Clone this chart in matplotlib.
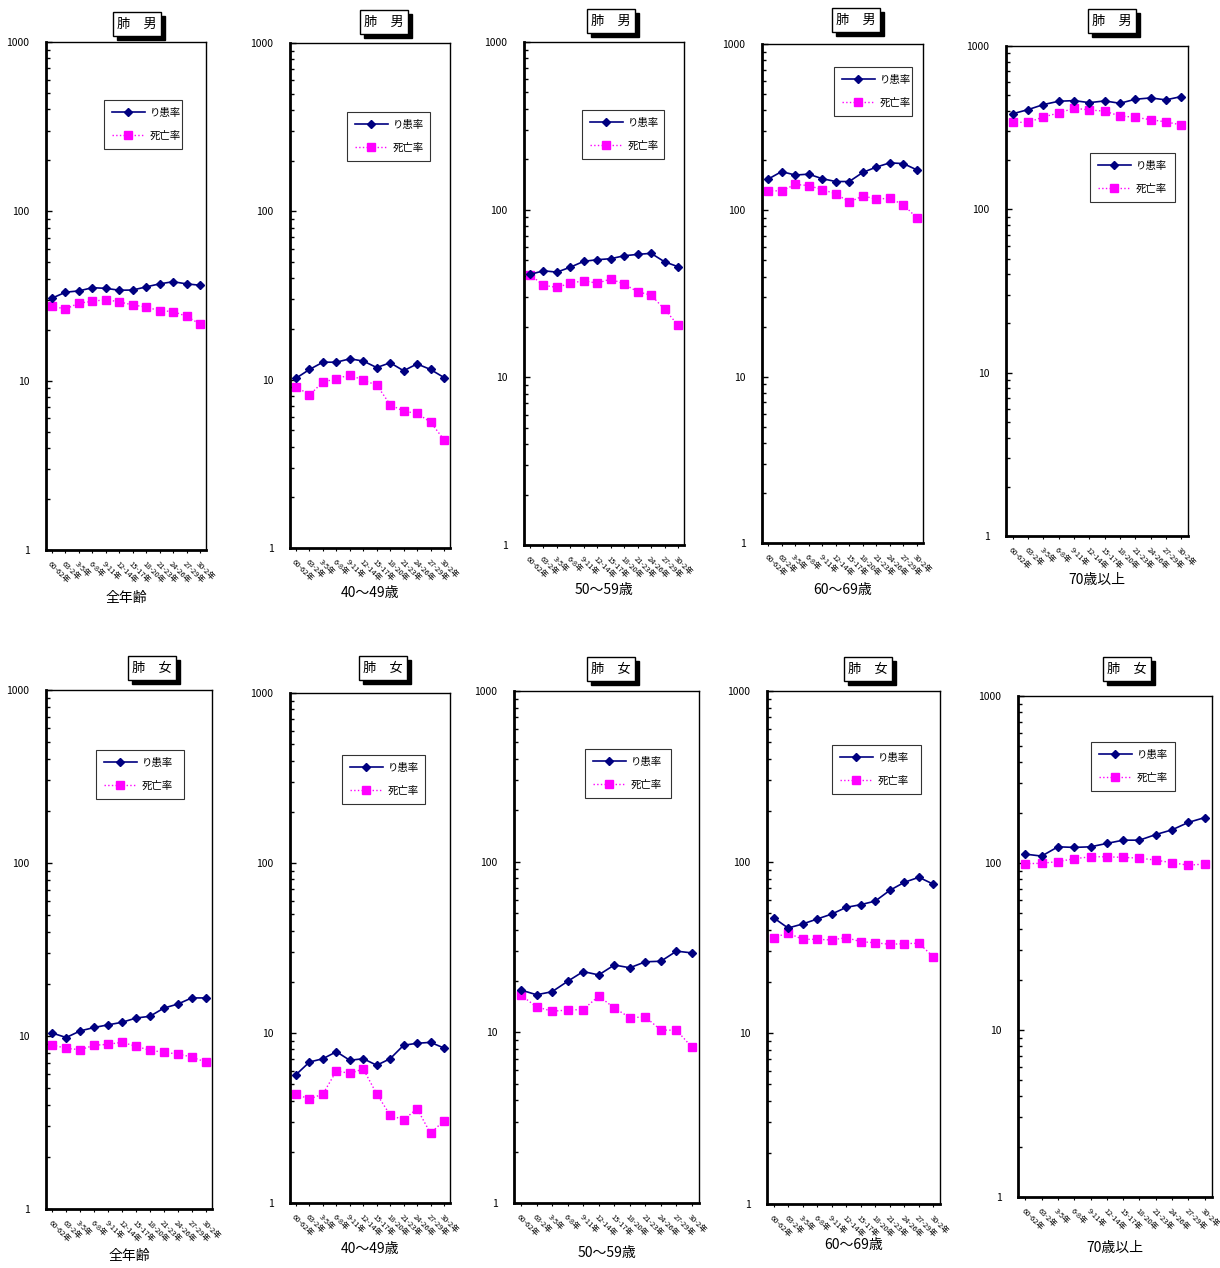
"""
肺がん り患率・死亡率の推移（男女・年齢階級別）、片対数の小パネル10枚。
"""

import matplotlib.pyplot as plt
from matplotlib.patches import Rectangle
from matplotlib.ticker import LogLocator, NullFormatter, FixedLocator

plt.rcParams["font.family"] = ["Noto Sans CJK JP", "DejaVu Sans"]

periods = ["60-62年", "63-2年", "3-5年", "6-8年", "9-11年", "12-14年",
           "15-17年", "18-20年", "21-23年", "24-26年", "27-29年", "30-2年"]

# 男
male_all_inc = [30.7, 33.3, 33.9, 35.4, 35.1, 34.2, 34.3, 35.8, 37.3, 38.4, 37.3, 36.6]
male_all_mort = [27.5, 26.5, 28.7, 29.4, 30.1, 29.2, 28.0, 27.2, 25.9, 25.6, 24.0, 21.6]
male_40_inc = [10.2, 11.5, 12.7, 12.7, 13.3, 12.9, 11.8, 12.6, 11.3, 12.4, 11.5, 10.3]
male_40_mort = [9.1, 8.1, 9.7, 10.1, 10.7, 9.9, 9.3, 7.1, 6.5, 6.3, 5.6, 4.4]
male_50_inc = [41.1, 43.2, 42.4, 45.4, 49.2, 50.3, 51.0, 53.1, 54.1, 54.9, 48.9, 45.7]
male_50_mort = [40.9, 35.4, 34.4, 36.4, 37.7, 36.4, 38.6, 36.0, 32.4, 30.9, 25.5, 20.5]
male_60_inc = [154, 171, 163, 165, 155, 149, 149, 169, 182, 193, 191, 175]
male_60_mort = [131, 131, 143, 141, 133, 126, 112, 122, 117, 118, 108, 90]
male_70_inc = [385, 408, 438, 459, 463, 450, 461, 446, 472, 481, 468, 490]
male_70_mort = [341, 341, 368, 389, 416, 406, 399, 373, 366, 354, 343, 329]

# 女
female_all_inc = [10.4, 9.8, 10.7, 11.2, 11.6, 12.0, 12.7, 13.0, 14.5, 15.3, 16.6, 16.6]
female_all_mort = [8.87, 8.49, 8.33, 8.84, 8.95, 9.2, 8.72, 8.27, 8.05, 7.87, 7.56, 7.07]
female_40_inc = [5.69, 6.75, 7.06, 7.76, 6.91, 7.06, 6.46, 7.06, 8.47, 8.70, 8.81, 8.16]
female_40_mort = [4.36, 4.09, 4.38, 5.98, 5.79, 6.14, 4.38, 3.29, 3.08, 3.59, 2.57, 3.05]
female_50_inc = [17.7, 16.6, 17.3, 19.9, 22.7, 21.7, 24.8, 23.9, 25.9, 26.1, 29.9, 29.2]
female_50_mort = [16.5, 14.1, 13.3, 13.5, 13.6, 16.3, 13.9, 12.2, 12.3, 10.3, 10.3, 8.17]
female_60_inc = [47.2, 41.1, 43.4, 46.4, 49.6, 54.3, 56.3, 59.1, 68.3, 76.1, 81.4, 74.1]
female_60_mort = [36.1, 38.4, 35.3, 35.3, 35.0, 36.1, 34.2, 33.7, 33.0, 33.3, 33.5, 27.8]
female_70_inc = [113, 110, 125, 124, 125, 131, 137, 137, 148, 158, 175, 187]
female_70_mort = [99, 99.6, 102, 106, 109, 109, 108, 107, 104, 100.4, 97, 98.6]

age_labels = ["全年齢", "40～49歳", "50～59歳", "60～69歳", "70歳以上"]

W, H = 1220, 1268

# (left, top, right, bottom) in pixels, title centre, xlabel y, legend (left, top, right, bottom)
panels = [
    ("肺　男", male_all_inc, male_all_mort, (46, 42, 206, 550), (137, 24), 598, (104, 100, 182, 150)),
    ("肺　男", male_40_inc, male_40_mort, (290, 43, 450, 548), (384, 22), 593, (347, 112, 430, 160)),
    ("肺　男", male_50_inc, male_50_mort, (524, 42, 684, 545), (611, 21), 590, (582, 110, 664, 154)),
    ("肺　男", male_60_inc, male_60_mort, (762, 44, 923, 543), (856, 20), 590, (834, 67, 912, 113)),
    ("肺　男", male_70_inc, male_70_mort, (1006, 46, 1188, 536), (1112, 21), 580, (1090, 153, 1175, 200)),
    ("肺　女", female_all_inc, female_all_mort, (46, 690, 212, 1209), (152, 668), 1256, (96, 750, 184, 792)),
    ("肺　女", female_40_inc, female_40_mort, (290, 693, 450, 1203), (383, 668), 1249, (342, 755, 425, 796)),
    ("肺　女", female_50_inc, female_50_mort, (514, 691, 699, 1203), (611, 669), 1253, (585, 749, 671, 791)),
    ("肺　女", female_60_inc, female_60_mort, (767, 691, 940, 1204), (868, 669), 1245, (832, 745, 921, 791)),
    ("肺　女", female_70_inc, female_70_mort, (1018, 696, 1212, 1197), (1127, 669), 1248, (1091, 742, 1175, 784)),
]

fig = plt.figure(figsize=(W / 100, H / 100), dpi=100)

for i, (title, inc, mort, box, tpos, xl_y, lg) in enumerate(panels):
    l, t, r, b = box
    ax = fig.add_axes([l / W, 1 - b / H, (r - l) / W, (b - t) / H])
    x = range(len(periods))
    ax.plot(x, inc, color="#000080", marker="D", markersize=4.5, linewidth=1.2,
            label="り患率", zorder=3)
    ax.plot(x, mort, color="#FF00FF", marker="s", markersize=6, linewidth=1.0,
            linestyle=":", label="死亡率", zorder=2)

    ax.set_yscale("log")
    ax.set_ylim(1, 1000)
    ax.set_xlim(-0.45, len(periods) - 0.55)
    ax.yaxis.set_major_locator(FixedLocator([1, 10, 100, 1000]))
    ax.set_yticklabels(["1", "10", "100", "1000"])
    ax.yaxis.set_minor_locator(LogLocator(base=10, subs=range(2, 10)))
    ax.yaxis.set_minor_formatter(NullFormatter())
    ax.tick_params(axis="y", which="major", direction="in", length=4, width=1,
                   labelsize=7.5, pad=12)
    ax.tick_params(axis="y", which="minor", direction="in", length=3, width=1)

    ax.set_xticks(list(x))
    ax.set_xticklabels(periods, rotation=-45, ha="left", va="top",
                       rotation_mode="anchor", fontsize=5.5)
    ax.tick_params(axis="x", direction="out", length=2, width=0.8, pad=5)

    for side in ["left", "bottom"]:
        ax.spines[side].set_linewidth(2)
    for side in ["top", "right"]:
        ax.spines[side].set_linewidth(1)

    # panel title box with offset black shadow
    bw, bh = 48, 24
    cx, cy = tpos
    fig.patches.append(Rectangle(((cx - bw / 2 + 4) / W, 1 - (cy + bh / 2 + 4) / H),
                                 bw / W, bh / H, transform=fig.transFigure,
                                 facecolor="black", edgecolor="black", zorder=5))
    fig.patches.append(Rectangle(((cx - bw / 2) / W, 1 - (cy + bh / 2) / H),
                                 bw / W, bh / H, transform=fig.transFigure,
                                 facecolor="white", edgecolor="black", linewidth=1,
                                 zorder=6))
    fig.text(cx / W, 1 - cy / H, title, ha="center", va="center", fontsize=9.5,
             color="black", zorder=7)

    fig.text((l + r) / 2 / W, 1 - xl_y / H, age_labels[i % 5], ha="center",
             va="center", fontsize=10)

    ll, lt, lr, lb = lg
    leg = ax.legend(loc="upper left",
                    bbox_to_anchor=(ll / W, 1 - lb / H, (lr - ll) / W, (lb - lt) / H),
                    bbox_transform=fig.transFigure, mode="expand",
                    fontsize=7.5, frameon=True, fancybox=False, handlelength=3.2,
                    borderpad=0.75, labelspacing=1.25, handletextpad=0.4,
                    borderaxespad=0)
    leg.get_frame().set_edgecolor("black")
    leg.get_frame().set_linewidth(0.8)

fig.savefig("out.png", dpi=100)
